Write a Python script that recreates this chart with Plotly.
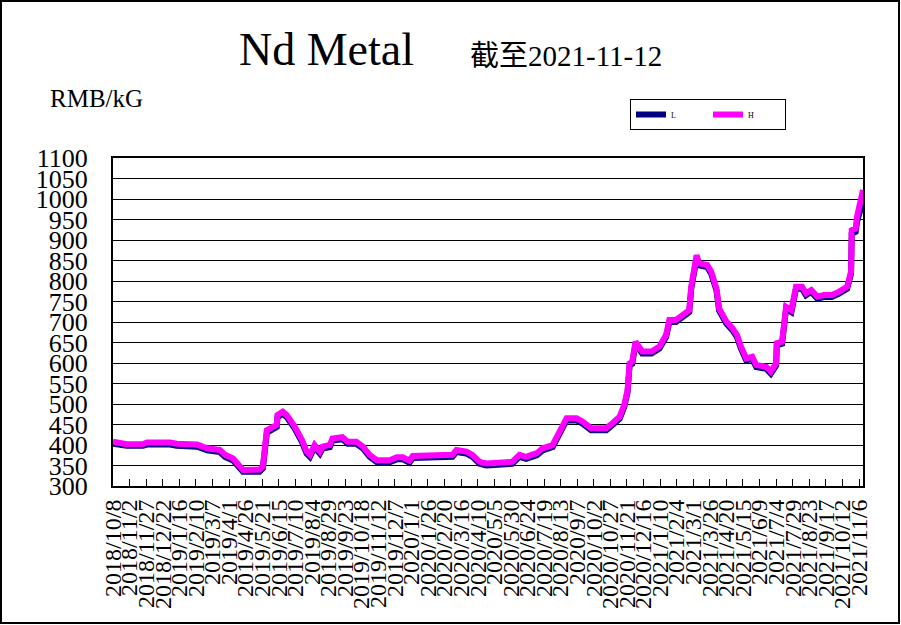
import plotly.graph_objects as go
from datetime import datetime

# ---- data ----
dates = ["2018-10-08","2018-10-29","2018-11-22","2018-11-28","2019-01-02","2019-01-12","2019-02-12","2019-02-27","2019-03-18","2019-03-26",
         "2019-04-07","2019-04-13","2019-04-22","2019-05-17","2019-05-22","2019-05-28","2019-06-06","2019-06-12","2019-06-13","2019-06-21",
         "2019-06-27","2019-07-09","2019-07-20","2019-07-27","2019-08-01","2019-08-08","2019-08-16","2019-08-20","2019-08-31","2019-09-04",
         "2019-09-19","2019-09-27","2019-10-10","2019-10-20","2019-10-30","2019-11-10","2019-11-29","2019-12-10","2019-12-19","2019-12-29",
         "2020-01-03","2020-02-17","2020-03-03","2020-03-09","2020-03-24","2020-04-02","2020-04-13","2020-04-23","2020-05-28","2020-06-01",
         "2020-06-12","2020-06-22","2020-07-08","2020-07-17","2020-08-01","2020-08-08","2020-08-22","2020-09-06","2020-09-15","2020-09-28",
         "2020-10-21","2020-10-30","2020-11-10","2020-11-17","2020-11-22","2020-11-25","2020-11-29","2020-12-04","2020-12-10","2020-12-14",
         "2020-12-28","2021-01-09","2021-01-19","2021-01-24","2021-02-03","2021-02-23","2021-02-26","2021-03-06","2021-03-10","2021-03-22",
         "2021-03-28","2021-04-05","2021-04-09","2021-04-20","2021-04-29","2021-05-06","2021-05-12","2021-05-20","2021-05-29","2021-06-04",
         "2021-06-19","2021-06-26","2021-07-04","2021-07-05","2021-07-13","2021-07-19","2021-07-27","2021-08-03","2021-08-12","2021-08-18",
         "2021-08-26","2021-09-04","2021-09-14","2021-09-26","2021-10-07","2021-10-19","2021-10-25","2021-10-26","2021-11-01","2021-11-03",
         "2021-11-12"]

high_vals = [408,402,402,406,406,403,401,392,388,376,
             367,355,339,340,348,436,445,449,473,481,
             473,445,412,384,376,400,384,396,400,416,
             419,408,408,396,376,363,363,370,370,362,
             373,373,376,388,384,376,359,355,359,359,
             376,371,380,392,400,424,465,465,457,441,
             441,453,469,498,534,599,603,652,640,628,
             628,640,668,705,705,729,786,863,843,839,
             823,782,733,701,685,668,640,611,615,595,
             591,579,599,648,652,737,729,786,786,770,
             778,762,766,766,774,786,823,924,928,957,
             1022]

low_vals = [403,398,398,401,401,398,396,387,383,371,
            362,350,335,335,343,430,440,444,468,476,
            468,440,407,379,371,395,379,391,395,411,
            414,403,403,391,371,358,358,365,365,357,
            368,368,371,383,379,371,354,350,354,354,
            371,366,375,387,395,419,460,460,452,436,
            436,448,464,493,529,594,598,647,635,623,
            623,635,663,700,700,724,781,855,838,834,
            818,777,728,696,680,663,635,606,610,590,
            586,574,594,643,647,732,724,781,781,765,
            773,757,761,761,769,781,818,915,920,945,
            995]

tick_labels = ["2018/10/8","2018/11/2","2018/11/27","2018/12/22","2019/1/16","2019/2/10","2019/3/7","2019/4/1",
               "2019/4/26","2019/5/21","2019/6/15","2019/7/10","2019/8/4","2019/8/29","2019/9/23","2019/10/18",
               "2019/11/12","2019/12/7","2020/1/1","2020/1/26","2020/2/20","2020/3/16","2020/4/10","2020/5/5",
               "2020/5/30","2020/6/24","2020/7/19","2020/8/13","2020/9/7","2020/10/2","2020/10/27","2020/11/21",
               "2020/12/16","2021/1/10","2021/2/4","2021/3/1","2021/3/26","2021/4/20","2021/5/15","2021/6/9",
               "2021/7/4","2021/7/29","2021/8/23","2021/9/17","2021/10/12","2021/11/6"]

tick_vals = [datetime.strptime(t, "%Y/%m/%d").strftime("%Y-%m-%d") for t in tick_labels]

W, H = 901, 625
L_M, R_M, T_M, B_M = 113, 38, 158, 139
pw, ph = W - L_M - R_M, H - T_M - B_M


def px(x):
    return (x - L_M) / pw


def py(y):
    return (H - B_M - y) / ph


fig = go.Figure()
fig.add_trace(go.Scatter(x=dates, y=low_vals, name="L", mode="lines",
                         line=dict(color="#000080", width=6)))
fig.add_trace(go.Scatter(x=dates, y=high_vals, name="H", mode="lines",
                         line=dict(color="#FF00FF", width=6)))

serif = "Liberation Serif, DejaVu Serif, serif"

fig.update_layout(
    width=W, height=H,
    margin=dict(l=L_M, r=R_M, t=T_M, b=B_M),
    paper_bgcolor="white", plot_bgcolor="white",
    showlegend=True,
    legend=dict(orientation="h", x=px(630), y=py(99), xanchor="left", yanchor="top",
                bgcolor="white", bordercolor="black", borderwidth=1,
                font=dict(family=serif, size=8, color="black"),
                entrywidth=32, entrywidthmode="pixels", itemwidth=30),
    xaxis=dict(type="date", range=["2018-10-08", "2021-11-12"],
               tickmode="array", tickvals=tick_vals, ticktext=tick_labels,
               tickangle=-90, ticks="inside", ticklen=7, tickcolor="black", tickwidth=1,
               tickfont=dict(family=serif, size=24, color="black"),
               showgrid=False, showline=True, linecolor="black", linewidth=2, mirror=True,
               ticklabelstandoff=2),
    yaxis=dict(range=[300, 1100], dtick=50, tick0=300,
               tickfont=dict(family=serif, size=26, color="black"),
               showgrid=True, gridcolor="black", gridwidth=1,
               showline=True, linecolor="black", linewidth=2, mirror=True,
               ticks="", ticklabelstandoff=18, zeroline=False),
)

fig.add_annotation(text="Nd Metal", xref="paper", yref="paper", x=px(326), y=py(49),
                   xanchor="center", yanchor="middle", showarrow=False,
                   font=dict(family=serif, size=46, color="black"))
fig.add_annotation(text="截至2021-11-12", xref="paper", yref="paper", x=px(566), y=py(56),
                   xanchor="center", yanchor="middle", showarrow=False,
                   font=dict(family="Liberation Serif, Noto Sans CJK SC, serif", size=29, color="black"))
fig.add_annotation(text="RMB/kG", xref="paper", yref="paper", x=px(48), y=py(99),
                   xanchor="left", yanchor="middle", showarrow=False,
                   font=dict(family=serif, size=25, color="black"))

# outer chart frame
fig.add_shape(type="rect", xref="paper", yref="paper",
              x0=px(1), x1=px(899), y0=py(623), y1=py(1),
              line=dict(color="black", width=2), layer="below")

fig.write_html("out.html", config={"displayModeBar": False},
               post_script="document.body.style.margin='0px';")
